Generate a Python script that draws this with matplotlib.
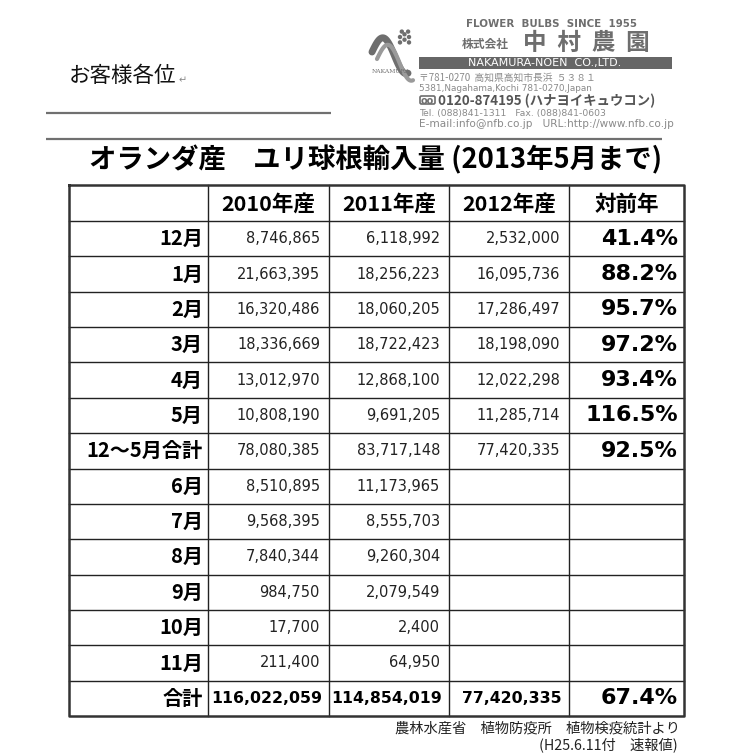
import matplotlib
matplotlib.use("Agg")
import matplotlib.pyplot as plt
from matplotlib.patches import Rectangle, Circle, FancyBboxPatch
import numpy as np

# ---------------- data ----------------
title = "オランダ産　ユリ球根輸入量 (2013年5月まで)"
col_headers = ["2010年産", "2011年産", "2012年産", "対前年"]
row_labels = ["12月", "1月", "2月", "3月", "4月", "5月", "12～5月合計",
              "6月", "7月", "8月", "9月", "10月", "11月", "合計"]
v2010 = [8746865, 21663395, 16320486, 18336669, 13012970, 10808190, 78080385,
         8510895, 9568395, 7840344, 984750, 17700, 211400, 116022059]
v2011 = [6118992, 18256223, 18060205, 18722423, 12868100, 9691205, 83717148,
         11173965, 8555703, 9260304, 2079549, 2400, 64950, 114854019]
v2012 = [2532000, 16095736, 17286497, 18198090, 12022298, 11285714, 77420335,
         None, None, None, None, None, None, 77420335]
ratio = [41.4, 88.2, 95.7, 97.2, 93.4, 116.5, 92.5,
         None, None, None, None, None, None, 67.4]
source_line1 = "農林水産省　植物防疫所　植物検疫統計より"
source_line2 = "(H25.6.11付　速報値)"

JP = ["Noto Sans CJK JP", "DejaVu Sans"]

fig = plt.figure(figsize=(7.30, 7.53), dpi=100)
ax = fig.add_axes([0, 0, 1, 1])
ax.set_xlim(0, 730)
ax.set_ylim(753, 0)
ax.axis("off")

# ---------------- letterhead ----------------
ax.text(69, 76, "お客様各位", fontsize=15.5, family=JP, ha="left", va="center", color="#111111")
ax.text(179, 80, "↵", fontsize=7, family=JP, ha="left", va="center", color="#888888")
ax.plot([46, 331], [113, 113], color="#707070", lw=1.6, solid_capstyle="butt")
ax.plot([46, 662], [139, 139], color="#707070", lw=1.6, solid_capstyle="butt")

grey = "#6e6e6e"
# logo: swoosh + flower
t = np.linspace(0, 1, 60)
sx = 372 + 36 * t
sy = 52 - 16 * np.sin(np.pi * t * 1.6) + 6 * t
ax.plot(sx, sy, color=grey, lw=5, solid_capstyle="round")
ax.plot(sx + 5, sy + 7, color="#9a9a9a", lw=3, solid_capstyle="round")
for dx, dy in [(0, 0), (5, -3), (10, 0), (5, 3), (2, -6), (9, -6), (0, 6), (10, 6)]:
    ax.add_patch(Circle((400 + dx * 0.9, 37 + dy * 0.9), 2.2, color=grey, lw=0))
ax.text(391, 71, "NAKAMURA", fontsize=4.3, family="DejaVu Serif", ha="center", va="center", color=grey)

ax.text(466, 24, "FLOWER  BULBS  SINCE  1955", fontsize=7.4, weight="bold",
        family="DejaVu Sans", ha="left", va="center", color=grey)
ax.text(462, 44, "株式会社", fontsize=8.5, weight="bold", family=JP, ha="left", va="center", color=grey)
ax.text(523, 43, "中  村  農  園", fontsize=17, weight="bold", family=JP, ha="left", va="center", color=grey)
ax.add_patch(Rectangle((419, 57), 253, 11.5, color="#666666", lw=0))
ax.text(545, 62.8, "NAKAMURA-NOEN  CO.,LTD.", fontsize=8, family="DejaVu Sans",
        ha="center", va="center", color="white")
ax.text(419, 78, "〒781-0270  高知県高知市長浜  ５３８１", fontsize=7.0, family=JP,
        ha="left", va="center", color="#8a8a8a")
ax.text(419, 88, "5381,Nagahama,Kochi 781-0270,Japan", fontsize=6.4, family="DejaVu Sans",
        ha="left", va="center", color="#8a8a8a")
ax.add_patch(FancyBboxPatch((420, 96), 15, 8, boxstyle="round,pad=0,rounding_size=1.5",
                            fc="white", ec=grey, lw=1.2))
ax.text(427.5, 100.5, "oo", fontsize=7, weight="bold", family="DejaVu Sans",
        ha="center", va="center", color=grey)
ax.text(438, 100.5, "0120-874195 (ハナヨイキュウコン)", fontsize=9.6, weight="bold", family=JP,
        ha="left", va="center", color="#555555")
ax.text(419, 113, "Tel. (088)841-1311   Fax. (088)841-0603", fontsize=6.7, family="DejaVu Sans",
        ha="left", va="center", color="#8a8a8a")
ax.text(419, 124, "E-mail:info@nfb.co.jp   URL:http://www.nfb.co.jp", fontsize=7.6,
        family="DejaVu Sans", ha="left", va="center", color="#8a8a8a")

# ---------------- title ----------------
ax.text(89, 160, title, fontsize=19.7, weight="bold", family=JP, ha="left", va="center",
        color="black")

# ---------------- table ----------------
col_x = [69, 208, 329, 449, 569, 684]
top, head_bot, bottom = 185, 221, 716
n = len(row_labels)
row_h = (bottom - head_bot) / n
row_y = [head_bot + row_h * i for i in range(n + 1)]

# grid
for x in col_x[1:-1]:
    ax.plot([x, x], [top, bottom], color="#222222", lw=1.0)
for y in row_y[:-1]:
    ax.plot([col_x[0], col_x[-1]], [y, y], color="#222222", lw=1.0)
ax.plot([col_x[0], col_x[-1], col_x[-1], col_x[0], col_x[0]],
        [top, top, bottom, bottom, top], color="#333333", lw=1.8)

# header
for j, h in enumerate(col_headers):
    cx = (col_x[j + 1] + col_x[j + 2]) / 2
    ax.text(cx, (top + head_bot) / 2 + 1, h, fontsize=15.5, weight="bold", family=JP,
            ha="center", va="center", color="black")

def fmt(v):
    return "" if v is None else f"{v:,}"

for i, lab in enumerate(row_labels):
    cy = row_y[i] + row_h / 2
    is_total = (i == n - 1)
    ax.text(col_x[1] - 5, cy, lab, fontsize=14.5, weight="bold", family=JP,
            ha="right", va="center", color="black")
    for j, series in enumerate([v2010, v2011, v2012]):
        s = fmt(series[i])
        if not s:
            continue
        if is_total:
            ax.text(col_x[j + 2] - 7, cy, s, fontsize=11.3, weight="bold",
                    family="DejaVu Sans", ha="right", va="center", color="black")
        else:
            ax.text(col_x[j + 2] - 9, cy, s, fontsize=10.5,
                    family="DejaVu Sans", ha="right", va="center", color="#222222")
    if ratio[i] is not None:
        ax.text(col_x[-1] - 6, cy, f"{ratio[i]:.1f}%", fontsize=16, weight="bold",
                family="DejaVu Sans", ha="right", va="center", color="black")

# source
ax.text(680, 729, source_line1, fontsize=10.3, family=JP, ha="right", va="center", color="#222222")
ax.text(678, 745, source_line2, fontsize=10.3, family=JP, ha="right", va="center", color="#222222")

fig.savefig("out.png", dpi=100)
